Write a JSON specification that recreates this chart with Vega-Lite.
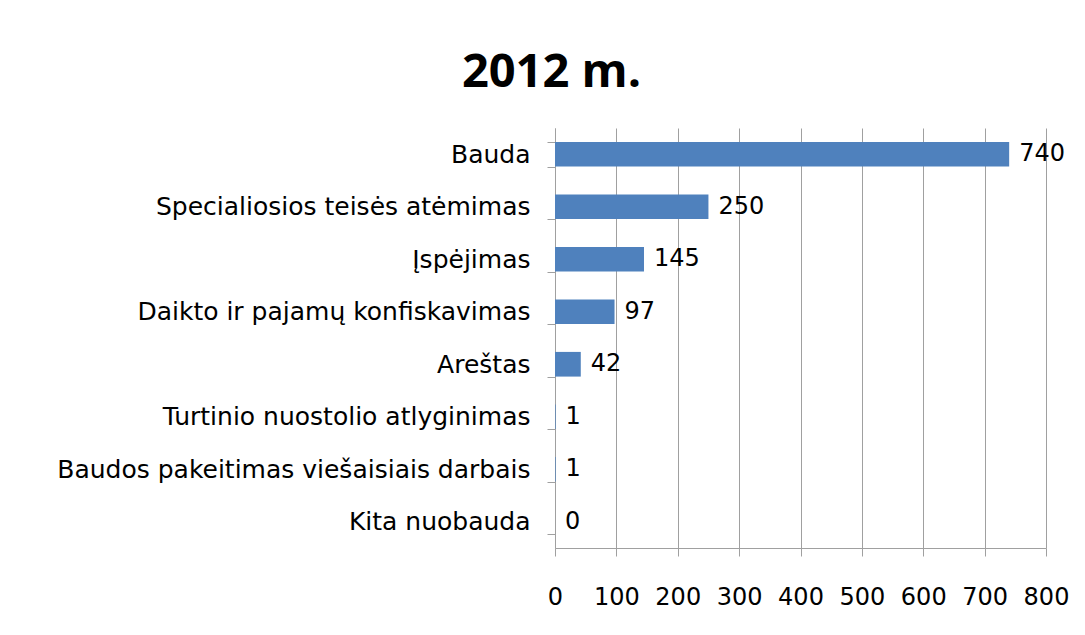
{
  "$schema": "https://vega.github.io/schema/vega-lite/v6.json",
  "width": 491,
  "height": 420,
  "autosize": {"type": "none"},
  "padding": {"left": 555, "top": 128, "right": 39, "bottom": 87},
  "background": "white",
  "title": {"text": "2012 m.", "font": "Open Sans", "fontSize": 47, "fontWeight": "bold", "color": "black", "anchor": "middle", "frame": "group", "dx": -249, "baseline": "alphabetic", "offset": 39, "dy": 57},
  "data": {"values": [
    {"k": "Bauda", "v": 740},
    {"k": "Specialiosios teisės atėmimas", "v": 250},
    {"k": "Įspėjimas", "v": 145},
    {"k": "Daikto ir pajamų konfiskavimas", "v": 97},
    {"k": "Areštas", "v": 42},
    {"k": "Turtinio nuostolio atlyginimas", "v": 1},
    {"k": "Baudos pakeitimas viešaisiais darbais", "v": 1},
    {"k": "Kita nuobauda", "v": 0}
  ]},
  "encoding": {
    "y": {"field": "k", "type": "nominal", "sort": null, "title": null,
      "scale": {"paddingInner": 0.53, "paddingOuter": 0.265},
      "axis": {"labelFont": "DejaVu Sans", "labelFontSize": 25, "labelColor": "black", "labelPadding": 17, "tickSize": 8, "tickColor": "#A0A0A0", "domainColor": "#A0A0A0", "tickBand": "extent", "labelLimit": 600}},
    "x": {"field": "v", "type": "quantitative", "title": null,
      "scale": {"domain": [0, 800], "nice": false},
      "axis": {"values": [0,100,200,300,400,500,600,700,800], "labelFont": "DejaVu Sans", "labelFontSize": 24, "labelColor": "black", "labelPadding": 29, "tickSize": 8, "tickColor": "#A0A0A0", "domainColor": "#A0A0A0", "gridColor": "#A0A0A0", "gridOpacity": 1, "labelFlush": false}}
  },
  "layer": [
    {"mark": {"type": "bar", "color": "#4F81BD"}},
    {"mark": {"type": "text", "align": "left", "dx": 10, "font": "DejaVu Sans", "fontSize": 24, "color": "black"}, "encoding": {"text": {"field": "v", "type": "quantitative"}}}
  ],
  "config": {"view": {"stroke": null}}
}
